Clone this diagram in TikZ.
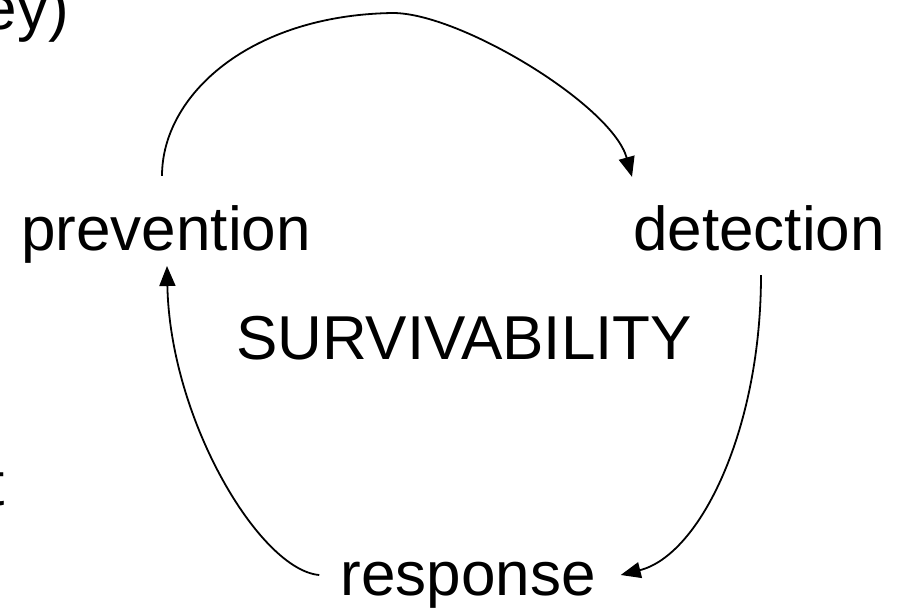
\documentclass[tikz,border=0pt]{standalone}
\usepackage{fontspec}
\setmainfont{Liberation Sans}
\usetikzlibrary{arrows.meta}
\begin{document}
\begin{tikzpicture}[x=1pt,y=-1pt,
  lbl/.style={inner sep=0pt, anchor=base, font=\fontsize{62}{70}\selectfont},
  arr/.style={line width=1.8pt, -{Triangle[length=20pt,width=16pt]}}]
\useasboundingbox (0,0) rectangle (907,610);
\node[lbl, anchor=base east] (ey) at (69,30) {ey)};
\node[lbl, anchor=base east] (tt) at (5,505) {t};
\node[lbl] (prev) at (166,250) {prevention};
\node[lbl] (det) at (759,250) {detection};
\node[lbl] (surv) at (464,359) {SURVIVABILITY};
\node[lbl] (resp) at (468,595) {response};
% prevention -> detection
\coordinate (top) at (393,13);
\draw[arr] ([shift={(-4,-29)}]prev.north) .. controls (162,95) and (250,15) .. (top)
  .. controls (460,13) and (612,105) .. ([shift={(-127,-28)}]det.north);
% detection -> response
\draw[arr] ([shift={(2,25)}]det.base) .. controls (761,430) and (700,555) .. ([shift={(25,-20)}]resp.base east);
% response -> prevention
\draw[arr] ([shift={(-21,-20)}]resp.base west) .. controls (260,570) and (170,420) .. ([shift={(1,16)}]prev.base);
\end{tikzpicture}
\end{document}
